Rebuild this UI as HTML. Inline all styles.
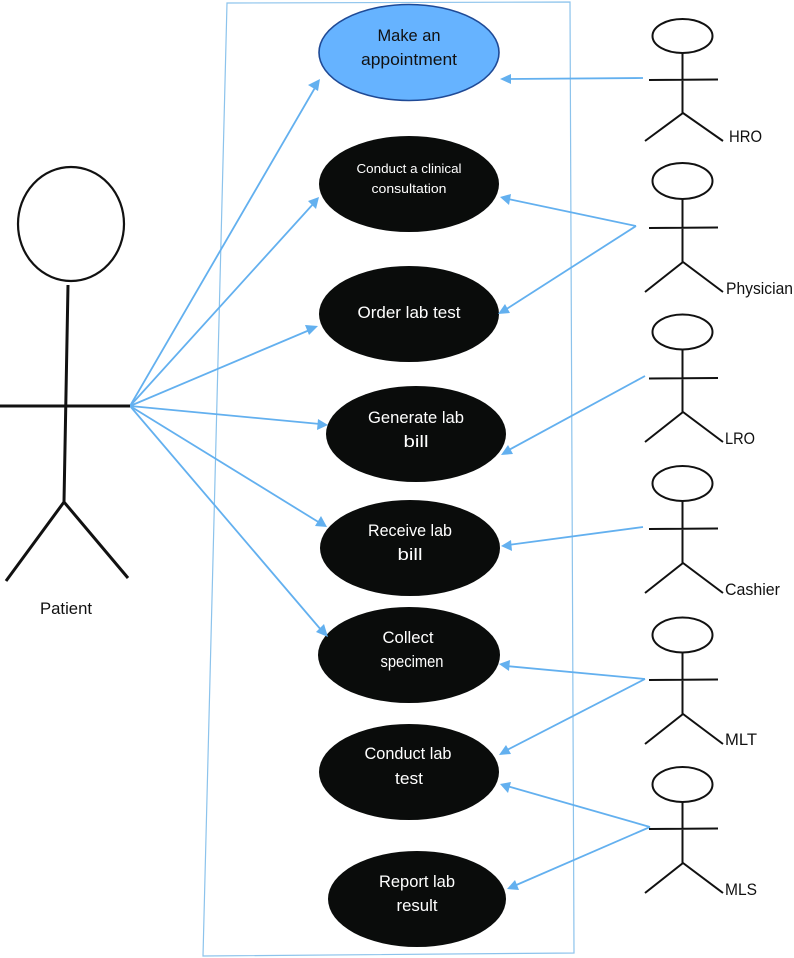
<!DOCTYPE html>
<html><head><meta charset="utf-8"><style>
html,body{margin:0;padding:0;background:#fff}
svg{display:block}
text{font-family:"Liberation Sans",sans-serif;text-anchor:middle}
.w{fill:#fff;font-size:16.5px}
.k{fill:#111;font-size:16.5px}
.l{fill:#111;font-size:16.5px;text-anchor:start}
.a{stroke:#63b0ef;stroke-width:1.8;fill:none}
.h{fill:#63b0ef;stroke:none}
.s{stroke:#111;stroke-width:2;fill:none}
</style></head><body>
<svg width="794" height="958" viewBox="0 0 794 958" xmlns="http://www.w3.org/2000/svg">
<polygon points="227,3 570,2 574,953 203,956" fill="none" stroke="#8cc3ec" stroke-width="1.2"/>

<g fill="#0a0c0b">
<ellipse cx="409" cy="184" rx="90" ry="48"/>
<ellipse cx="409" cy="314" rx="90" ry="48"/>
<ellipse cx="416" cy="434" rx="90" ry="48"/>
<ellipse cx="410" cy="548" rx="90" ry="48"/>
<ellipse cx="409" cy="655" rx="91" ry="48"/>
<ellipse cx="409" cy="772" rx="90" ry="48"/>
<ellipse cx="417" cy="899" rx="89" ry="48"/>
</g>
<ellipse cx="409" cy="52.5" rx="90" ry="48" fill="#66b3ff" stroke="#1f4a96" stroke-width="1.6"/>

<text class="k" x="409" y="41" textLength="63" lengthAdjust="spacingAndGlyphs">Make an</text>
<text class="k" x="409" y="65" textLength="96" lengthAdjust="spacingAndGlyphs">appointment</text>
<text class="w" x="409" y="173" style="font-size:13px" textLength="105" lengthAdjust="spacingAndGlyphs">Conduct a clinical</text>
<text class="w" x="409" y="193" style="font-size:13px" textLength="75" lengthAdjust="spacingAndGlyphs">consultation</text>
<text class="w" x="409" y="318" textLength="103" lengthAdjust="spacingAndGlyphs">Order lab test</text>
<text class="w" x="416" y="423" textLength="96" lengthAdjust="spacingAndGlyphs">Generate lab</text>
<text class="w" x="416" y="447" textLength="25" lengthAdjust="spacingAndGlyphs">bill</text>
<text class="w" x="410" y="536" textLength="84" lengthAdjust="spacingAndGlyphs">Receive lab</text>
<text class="w" x="410" y="560" textLength="25" lengthAdjust="spacingAndGlyphs">bill</text>
<text class="w" x="408" y="643" textLength="51" lengthAdjust="spacingAndGlyphs">Collect</text>
<text class="w" x="412" y="667" textLength="63" lengthAdjust="spacingAndGlyphs">specimen</text>
<text class="w" x="408" y="759" textLength="87" lengthAdjust="spacingAndGlyphs">Conduct lab</text>
<text class="w" x="409" y="784" textLength="28" lengthAdjust="spacingAndGlyphs">test</text>
<text class="w" x="417" y="887" textLength="76" lengthAdjust="spacingAndGlyphs">Report lab</text>
<text class="w" x="417" y="911" textLength="41" lengthAdjust="spacingAndGlyphs">result</text>

<g class="a">
<line x1="130" y1="406" x2="316" y2="86"/>
<line x1="130" y1="406" x2="314" y2="203"/>
<line x1="130" y1="406" x2="312" y2="329"/>
<line x1="130" y1="406" x2="320" y2="424"/>
<line x1="130" y1="406" x2="320" y2="523"/>
<line x1="130" y1="406" x2="322" y2="631"/>
<line x1="643" y1="78" x2="508" y2="79"/>
<line x1="636" y1="226" x2="508" y2="199"/>
<line x1="636" y1="226" x2="505" y2="310"/>
<line x1="645" y1="376" x2="507" y2="451"/>
<line x1="643" y1="527" x2="508" y2="545"/>
<line x1="645" y1="679" x2="506" y2="666"/>
<line x1="645" y1="679" x2="505" y2="751"/>
<line x1="650" y1="827" x2="507" y2="786"/>
<line x1="650" y1="827" x2="514" y2="886"/>
</g>
<g class="h">
<polygon points="320,79 318,91 308,85"/>
<polygon points="319,197 316,209 308,201"/>
<polygon points="318,326 309,335 305,325"/>
<polygon points="328,425 317,430 318,419"/>
<polygon points="327,527 315,526 321,516"/>
<polygon points="328,637 316,632 324,624"/>
<polygon points="500,79 511,74 511,84"/>
<polygon points="500,197 511,194 509,205"/>
<polygon points="498,314 505,304 510,313"/>
<polygon points="501,455 508,445 513,454"/>
<polygon points="501,546 511,540 512,551"/>
<polygon points="499,664 510,660 509,671"/>
<polygon points="499,755 506,745 511,754"/>
<polygon points="500,784 511,782 508,793"/>
<polygon points="507,889 515,880 519,890"/>
</g>

<!-- Patient -->
<g class="s" style="stroke-width:3">
<ellipse cx="71" cy="224" rx="53" ry="57" style="stroke-width:2.2"/>
<path d="M68 285 L64 502 M0 406 H130 M6 581 L64 502 L128 578"/>
</g>
<text class="k" x="66" y="614" textLength="52" lengthAdjust="spacingAndGlyphs">Patient</text>

<!-- Small actors -->
<g class="s">
<ellipse cx="682.5" cy="36" rx="30" ry="17"/>
<path d="M682.5 53 V113 M649 80 L718 79.5 M645 141 L683 113 L723 141"/>
<ellipse cx="682.5" cy="181" rx="30" ry="18"/>
<path d="M682.5 199 V262 M649 228 L718 227.5 M645 292 L683 262 L723 292"/>
<ellipse cx="682.5" cy="332" rx="30" ry="17.5"/>
<path d="M682.5 350 V412 M649 378.500 L718 378 M645 442 L683 412 L723 442"/>
<ellipse cx="682.5" cy="483.500" rx="30" ry="17.5"/>
<path d="M682.5 501 V563 M649 529 L718 528.500 M645 593 L683 563 L723 593"/>
<ellipse cx="682.5" cy="635" rx="30" ry="17.5"/>
<path d="M682.5 652 V714 M649 680 L718 679.500 M645 744 L683 714 L723 744"/>
<ellipse cx="682.5" cy="784.500" rx="30" ry="17.5"/>
<path d="M682.5 802 V863 M649 829 L718 828.500 M645 893 L683 863 L723 893"/>
</g>
<text class="l" x="729" y="142" textLength="33" lengthAdjust="spacingAndGlyphs">HRO</text>
<text class="l" x="726" y="294" textLength="67" lengthAdjust="spacingAndGlyphs">Physician</text>
<text class="l" x="725" y="444" textLength="30" lengthAdjust="spacingAndGlyphs">LRO</text>
<text class="l" x="725" y="595" textLength="55" lengthAdjust="spacingAndGlyphs">Cashier</text>
<text class="l" x="725" y="745" textLength="32" lengthAdjust="spacingAndGlyphs">MLT</text>
<text class="l" x="725" y="895" textLength="32" lengthAdjust="spacingAndGlyphs">MLS</text>
</svg>
</body></html>
